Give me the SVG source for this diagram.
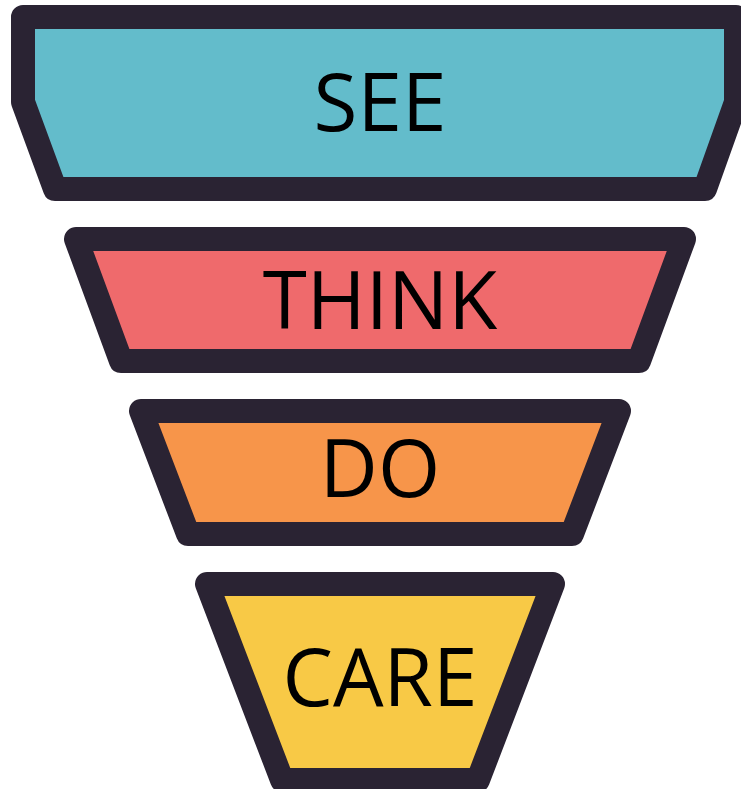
<svg xmlns="http://www.w3.org/2000/svg" width="741" height="789" viewBox="0 0 741 789">
  <style>
    .stage { stroke: #2a2333; stroke-width: 24; stroke-linejoin: round; }
    .label { font-family: "Open Sans", "Noto Sans", "Liberation Sans", sans-serif; font-size: 80px; fill: #000000; text-anchor: middle; }
  </style>
  <rect width="741" height="789" fill="#ffffff"/>
  <g id="see">
    <polygon class="stage" fill="#63bccb" points="23,17 736,17 736,102 705,189 55,189 23,102"/>
    <text class="label" x="380" y="131">SEE</text>
  </g>
  <g id="think">
    <polygon class="stage" fill="#ef6a6c" points="76,239 684,239 639,361 121,361"/>
    <text class="label" x="380" y="329">THINK</text>
  </g>
  <g id="do">
    <polygon class="stage" fill="#f7954a" points="141,411 619,411 572,534 188,534"/>
    <text class="label" x="380" y="497">DO</text>
  </g>
  <g id="care">
    <polygon class="stage" fill="#f8c946" points="207,584 553,584 478,780 282,780"/>
    <text class="label" x="380" y="706">CARE</text>
  </g>
  <g id="connectors"/>
</svg>
